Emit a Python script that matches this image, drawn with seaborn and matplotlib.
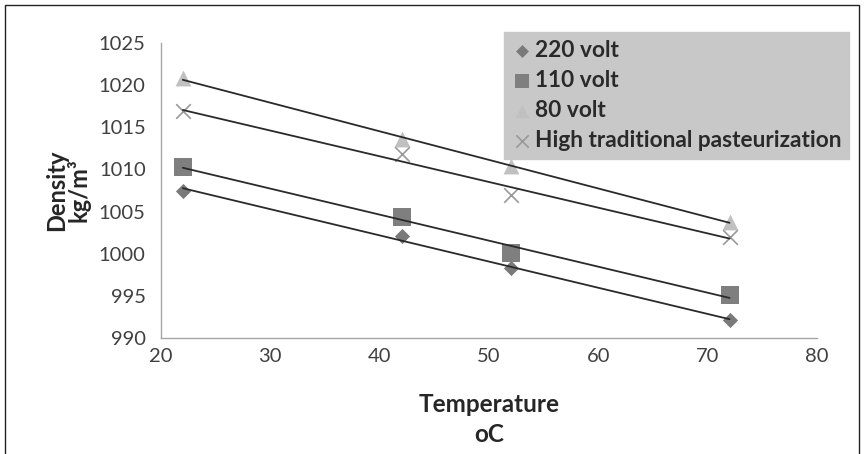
import matplotlib
matplotlib.use("Agg")
import matplotlib.pyplot as plt
import seaborn as sns
import pandas as pd
from matplotlib.patches import Rectangle

temperature = [22, 42, 52, 72]
series_names = ["220 volt", "110 volt", "80 volt", "High traditional pasteurization"]
v220 = [1007.5, 1002.1, 998.3, 992.1]
v110 = [1010.3, 1004.4, 1000.1, 995.1]
v80 = [1020.8, 1013.6, 1010.4, 1003.8]
high_trad = [1016.9, 1011.8, 1007.0, 1002.0]

x_ticks = [20, 30, 40, 50, 60, 70, 80]
y_ticks = [990, 995, 1000, 1005, 1010, 1015, 1020, 1025]

values = [v220, v110, v80, high_trad]
rows = []
for name, vals in zip(series_names, values):
    for t, v in zip(temperature, vals):
        rows.append({"Temperature": t, "Density": v, "Series": name})
df = pd.DataFrame(rows)

sns.set_style("white")
plt.rcParams["font.family"] = ["Lato", "DejaVu Sans"]

fig = plt.figure(figsize=(8.65, 4.54), dpi=100)
ax = fig.add_axes([161 / 865, 1 - 338 / 454, (817 - 161) / 865, (338 - 43) / 454])

colors = {"220 volt": "#7a7a7a", "110 volt": "#7f7f7f",
          "80 volt": "#c0c0c0", "High traditional pasteurization": "#999999"}
markers = {"220 volt": "D", "110 volt": "s", "80 volt": "^",
           "High traditional pasteurization": "x"}
sizes = {"220 volt": 60, "110 volt": 150, "80 volt": 130,
         "High traditional pasteurization": 110}

handles = []
for name in series_names:
    sub = df[df["Series"] == name]
    lw = 1.2 if markers[name] == "x" else 0
    sc = ax.scatter(sub["Temperature"], sub["Density"], marker=markers[name],
                    s=sizes[name], color=colors[name], linewidths=lw, zorder=2,
                    label=name)
    handles.append(sc)
    sns.regplot(data=sub, x="Temperature", y="Density", scatter=False, ci=None,
                truncate=True, ax=ax,
                line_kws={"color": "#2a2a2a", "linewidth": 1.3, "zorder": 3})

ax.set_xlim(20, 80)
ax.set_ylim(990, 1025)
ax.set_xticks(x_ticks)
ax.set_yticks(y_ticks)
for s in ["top", "right"]:
    ax.spines[s].set_visible(False)
for s in ["left", "bottom"]:
    ax.spines[s].set_color("#a6a6a6")
    ax.spines[s].set_linewidth(1.0)
ax.tick_params(axis="both", direction="out", length=5, width=1.0,
               color="#a6a6a6", labelcolor="#404040", labelsize=14.5, pad=6)
ax.tick_params(axis="x", pad=2)

ax.set_xlabel("Temperature\noC", fontsize=17.5, fontweight="bold", color="#262626",
              labelpad=20, linespacing=1.37)
ax.set_ylabel("Density\nkg/m³", fontsize=17, fontweight="bold", color="#262626",
              labelpad=6, linespacing=0.9)

leg = ax.legend(handles=handles, labels=series_names, loc="upper right",
                bbox_to_anchor=(849 / 865, 1 - 32 / 454),
                bbox_transform=fig.transFigure,
                frameon=True, fancybox=False, facecolor="#c8c8c8",
                edgecolor="#c8c8c8", framealpha=1.0,
                prop={"weight": "bold", "size": 16.3}, labelcolor="#2a2a2a",
                handletextpad=0.1, handlelength=0.9, borderpad=0.35,
                labelspacing=0.4, markerscale=0.85, borderaxespad=0)

fig.patches.append(Rectangle((5 / 865, -0.01), 854 / 865, 1 - 5 / 454 + 0.01,
                             transform=fig.transFigure, fill=False,
                             edgecolor="#222222", linewidth=1.0))

fig.savefig("out.png", dpi=100, facecolor="white")
